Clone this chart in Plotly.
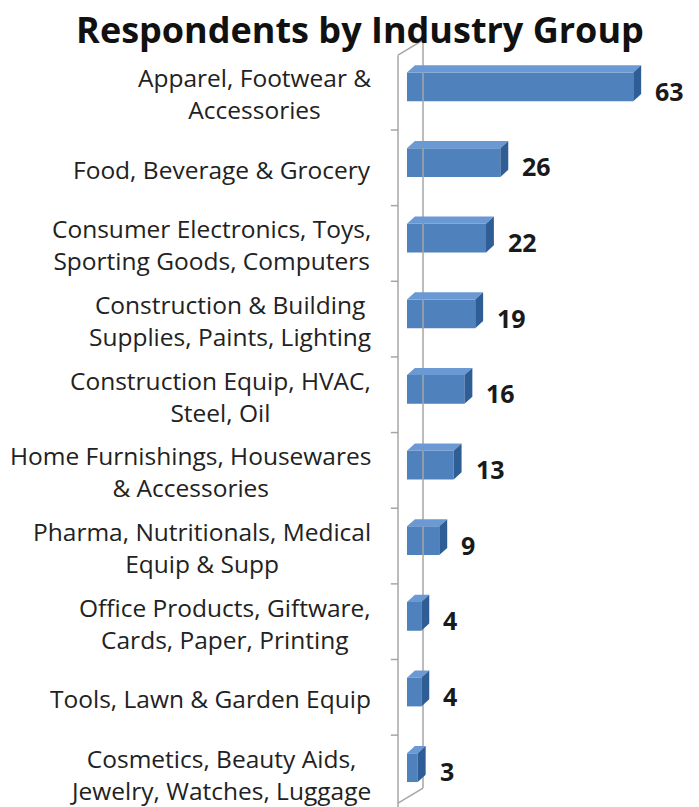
import plotly.graph_objects as go

# data (top to bottom)
industries = [
    "Apparel, Footwear &<br>Accessories",
    "Food, Beverage & Grocery",
    "Consumer Electronics, Toys,<br>Sporting Goods, Computers",
    "Construction & Building<br>Supplies, Paints, Lighting",
    "Construction Equip, HVAC,<br>Steel, Oil",
    "Home Furnishings, Housewares<br>& Accessories",
    "Pharma, Nutritionals, Medical<br>Equip & Supp",
    "Office Products, Giftware,<br>Cards, Paper, Printing",
    "Tools, Lawn & Garden Equip",
    "Cosmetics, Beauty Aids,<br>Jewelry, Watches, Luggage",
]
respondents = [63, 26, 22, 19, 16, 13, 9, 4, 4, 3]

FONT = "Open Sans"
FRONT = "#4f81bd"
SIDE = "#2f5e96"
TOP = "#6b99d3"

positions = list(range(len(industries)))
bar_w = 0.38
# fake 3d depth of the bars (in axis units)
dx, dy = 2.2, 0.095
# wall depth
wall_x0, wall_x1 = -2.5, 4.46

fig = go.Figure()
fig.add_trace(go.Bar(
    x=respondents, y=positions, orientation='h', width=bar_w,
    marker=dict(color=FRONT, line=dict(width=0)), hoverinfo='skip'
))

shapes = []
# back wall / floor lines
line_style = dict(color="#a6a6a6", width=1.5)
shapes.append(dict(type='line', xref='x', yref='y', x0=wall_x1, x1=wall_x1, y0=-0.62, y1=9.27, line=line_style))
shapes.append(dict(type='line', xref='x', yref='y', x0=wall_x0, x1=wall_x0, y0=-0.42, y1=9.6, line=line_style))
shapes.append(dict(type='line', xref='x', yref='y', x0=wall_x0, x1=wall_x1, y0=-0.42, y1=-0.62, line=line_style))
shapes.append(dict(type='line', xref='x', yref='y', x0=wall_x0, x1=wall_x1, y0=9.47, y1=9.27, line=line_style))
for i in range(len(industries) - 1):
    yb = i + 0.57
    shapes.append(dict(type='line', xref='x', yref='y', x0=wall_x0 - 2.0, x1=wall_x0, y0=yb, y1=yb, line=line_style))

# top and side faces of each bar
for pos, val in zip(positions, respondents):
    yt = pos - bar_w / 2
    yb = pos + bar_w / 2
    top_path = "M 0,{a} L {v},{a} L {v2},{b} L {d},{b} Z".format(a=yt, b=yt - dy, v=val, v2=val + dx, d=dx)
    side_path = "M {v},{a} L {v2},{b} L {v2},{c} L {v},{e} Z".format(a=yt, b=yt - dy, c=yb - dy, e=yb, v=val, v2=val + dx)
    shapes.append(dict(type='path', xref='x', yref='y', path=top_path, fillcolor=TOP, line=dict(width=0)))
    shapes.append(dict(type='path', xref='x', yref='y', path=side_path, fillcolor=SIDE, line=dict(width=0)))

annotations = []
# category labels, lines centred like the original
for pos, name in zip(positions, industries):
    annotations.append(dict(
        x=wall_x0, xref='x', y=pos + 0.09, yref='y', text=name, showarrow=False,
        xanchor='right', yanchor='middle', align='center', xshift=-25,
        font=dict(family=FONT, size=24.5, color="#222222")
    ))
# value labels
for pos, val in zip(positions, respondents):
    annotations.append(dict(
        x=val, xref='x', y=pos + 0.05, yref='y', text=str(val), showarrow=False,
        xanchor='left', yanchor='middle', xshift=20,
        font=dict(family=FONT, size=25, color="#1a1a1a", weight='bold')
    ))

fig.update_layout(
    width=699, height=807,
    margin=dict(l=390, r=9, t=40, b=0),
    paper_bgcolor='white', plot_bgcolor='white',
    showlegend=False,
    title=dict(text="<b>Respondents by Industry Group</b>", x=0.515, xanchor='center',
               y=1 - 30 / 807, yanchor='middle', yref='container',
               font=dict(family=FONT, size=36, color="#111111")),
    shapes=shapes,
    annotations=annotations,
)
fig.update_xaxes(range=[-4.73, 78.8], visible=False, fixedrange=True)
fig.update_yaxes(range=[9.52, -0.62], visible=False, fixedrange=True)

# drop the default body margin so the figure sits at the page corner
fig.write_html("out.html", config={'displayModeBar': False},
               post_script="document.body.style.margin='0';")
